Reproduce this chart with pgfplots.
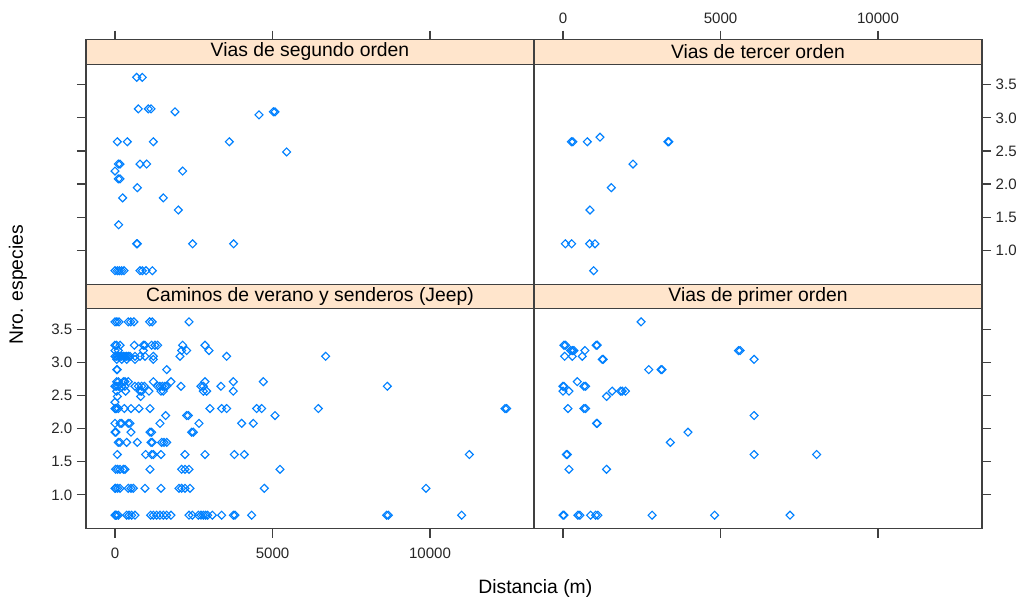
\documentclass[border=0pt]{standalone}
\usepackage{pgfplots}
\pgfplotsset{compat=1.18}
\usepackage{fontspec}
\setmainfont{Liberation Sans}
\definecolor{pts}{RGB}{0,128,255}
\definecolor{stripcol}{RGB}{255,229,204}
\pgfplotsset{
  panel/.style={
    scale only axis, width=336pt,
    xmin=-920, xmax=13300, ymin=0.49,
    scaled ticks=false,
    tick align=outside,
    major tick length=6.75pt,
    axis line style={line width=0.9pt, black!75},
    tick style={line width=0.9pt, black!75},
    xtick={0,5000,10000},
    ytick={1,1.5,2,2.5,3,3.5},
    ticklabel style={font=\fontsize{11.3}{13}\selectfont, text=black!85},
    xticklabel style={yshift=-4.5pt},
  },
  toppanel/.style={panel, height=183.375pt, ymax=4.1797, xticklabel style={yshift=6.5pt}},
  botpanel/.style={panel, height=165pt, ymax=3.81},
  dots/.style={only marks, mark=square, mark size=2.1pt,
      mark options={rotate=45, line width=0.85pt, draw=pts, fill=none, solid}},
}
\begin{document}
\begin{tikzpicture}
% bottom-left: Caminos de verano y senderos (Jeep)
\begin{axis}[botpanel, at={(0pt,0pt)}, anchor=south west,
  xtick pos=left, ytick pos=left, xticklabel pos=left, yticklabel pos=left,
  xticklabels={0,5000,10000}, yticklabels={1.0,1.5,2.0,2.5,3.0,3.5}]
\addplot[dots] coordinates {
(0,3.611)(60,3.611)(130,3.611)(420,3.611)(500,3.611)(600,3.611)(1100,3.611)(1180,3.611)(2350,3.611)
(0,3.258)(53,3.258)(160,3.258)(614,3.258)(900,3.258)(952,3.258)(1164,3.258)(1270,3.258)(1354,3.258)(2148,3.258)(2857,3.258)
(0,3.178)(106,3.178)(900,3.178)(2116,3.178)(2275,3.178)(2984,3.178)
(0,3.091)(53,3.091)(106,3.091)(159,3.091)(212,3.091)(265,3.091)(317,3.091)(370,3.091)(423,3.091)(476,3.091)(635,3.091)(794,3.091)(952,3.091)(1217,3.091)(2063,3.091)(3544,3.091)(6687,3.091)
(53,3.045)(212,3.045)(370,3.045)(635,3.045)(1217,3.045)
(53,2.890)(74,2.890)(1640,2.890)
(53,2.708)(106,2.708)(265,2.708)(317,2.708)(423,2.708)(1217,2.708)(1777,2.708)(2857,2.708)(3756,2.708)(4708,2.708)
(0,2.639)(53,2.639)(106,2.639)(212,2.639)(317,2.639)(635,2.639)(741,2.639)(846,2.639)(931,2.639)(1354,2.639)(1428,2.639)(1502,2.639)(1587,2.639)(1640,2.639)(2095,2.639)(2730,2.639)(2804,2.639)(3364,2.639)(8644,2.639)
(53,2.565)(339,2.565)(794,2.565)(846,2.565)(1079,2.565)(1460,2.565)(1534,2.565)(2804,2.565)(2910,2.565)(3756,2.565)
(74,2.485)(815,2.485)
(0,2.398)
(0,2.303)(20,2.303)(53,2.303)(106,2.303)(296,2.303)(508,2.303)(762,2.303)(1111,2.303)(3015,2.303)(3386,2.303)(3544,2.303)(4497,2.303)(4656,2.303)(6454,2.303)(12379,2.303)(12432,2.303)
(1608,2.197)(2275,2.197)(2328,2.197)(5079,2.197)
(0,2.079)(159,2.079)(212,2.079)(423,2.079)(476,2.079)(1428,2.079)(2666,2.079)(4020,2.079)(4391,2.079)
(0,1.946)(30,1.946)(508,1.946)(1111,1.946)(1164,1.946)(2433,1.946)(2486,1.946)
(106,1.792)(159,1.792)(370,1.792)(709,1.792)(1143,1.792)(1185,1.792)(1481,1.792)(1555,1.792)(1640,1.792)
(74,1.609)(973,1.609)(1164,1.609)(1217,1.609)(1460,1.609)(2222,1.609)(2857,1.609)(3788,1.609)(4105,1.609)(11247,1.609)
(21,1.386)(85,1.386)(159,1.386)(265,1.386)(317,1.386)(1111,1.386)(2116,1.386)(2222,1.386)(2349,1.386)(5237,1.386)
(0,1.099)(20,1.099)(85,1.099)(159,1.099)(423,1.099)(508,1.099)(582,1.099)(952,1.099)(1460,1.099)(2031,1.099)(2116,1.099)(2222,1.099)(2381,1.099)(4740,1.099)(9871,1.099)
(0,0.693)(20,0.693)(53,0.693)(106,0.693)(370,0.693)(444,0.693)(529,0.693)(635,0.693)(1132,0.693)(1217,0.693)(1323,0.693)(1428,0.693)(1534,0.693)(1640,0.693)(1777,0.693)(2349,0.693)(2455,0.693)(2645,0.693)(2730,0.693)(2804,0.693)(2878,0.693)(2941,0.693)(3090,0.693)(3386,0.693)(3756,0.693)(3809,0.693)(4338,0.693)(8623,0.693)(8676,0.693)(11004,0.693)
};
\end{axis}
% bottom-right: Vias de primer orden
\begin{axis}[botpanel, at={(336pt,0pt)}, anchor=south west,
  xtick pos=left, ytick pos=right, xticklabel pos=left, yticklabel pos=right,
  xticklabels={,,}, yticklabels={,,,,,}]
\addplot[dots] coordinates {
(2479,3.611)
(32,3.258)(84,3.258)(1055,3.258)(1087,3.258)
(243,3.178)(295,3.178)(348,3.178)(696,3.178)(5570,3.178)(5623,3.178)
(53,3.091)(295,3.091)(612,3.091)
(1245,3.045)(1277,3.045)(6066,3.045)
(2722,2.890)(3112,2.890)(3144,2.890)
(454,2.708)
(0,2.639)(32,2.639)(665,2.639)(717,2.639)
(0,2.565)(190,2.565)(1561,2.565)(1825,2.565)(1878,2.565)(1983,2.565)
(1382,2.485)
(158,2.303)(665,2.303)(717,2.303)
(6066,2.197)
(1066,2.079)(1087,2.079)
(3967,1.946)
(3408,1.792)
(106,1.609)(137,1.609)(6066,1.609)(8050,1.609)
(190,1.386)(1382,1.386)
(0,0.693)(32,0.693)(475,0.693)(538,0.693)(876,0.693)(1034,0.693)(1108,0.693)(2827,0.693)(4811,0.693)(7206,0.693)
};
\end{axis}
% top-left: Vias de segundo orden
\begin{axis}[toppanel, at={(0pt,183.375pt)}, anchor=south west,
  xtick pos=right, ytick pos=left, xticklabel pos=right, yticklabel pos=left,
  xticklabels={,,}, yticklabels={,,,,,}]
\addplot[dots] coordinates {
(688,3.611)(868,3.611)
(741,3.135)(1058,3.135)(1143,3.135)
(1904,3.091)(5026,3.091)(5079,3.091)
(4571,3.045)
(74,2.639)(391,2.639)(1217,2.639)(3629,2.639)
(5449,2.485)
(106,2.303)(159,2.303)(794,2.303)(1005,2.303)
(0,2.197)(2148,2.197)
(106,2.079)(159,2.079)
(709,1.946)
(243,1.792)(1534,1.792)
(2010,1.609)
(116,1.386)
(688,1.099)(709,1.099)(2465,1.099)(3766,1.099)
(0,0.693)(74,0.693)(138,0.693)(212,0.693)(286,0.693)(794,0.693)(868,0.693)(984,0.693)(1185,0.693)
};
\end{axis}
% top-right: Vias de tercer orden
\begin{axis}[toppanel, at={(336pt,183.375pt)}, anchor=south west,
  xtick pos=right, ytick pos=right, xticklabel pos=right, yticklabel pos=right,
  xticklabels={0,5000,10000}, yticklabels={1.0,1.5,2.0,2.5,3.0,3.5}]
\addplot[dots] coordinates {
(265,2.639)(317,2.639)(772,2.639)(3333,2.639)(3364,2.639)
(1174,2.708)
(2222,2.303)
(1534,1.946)
(857,1.609)
(74,1.099)(275,1.099)(846,1.099)(1015,1.099)
(973,0.693)
};
\end{axis}
% strips
\begin{scope}[line width=0.9pt, draw=black!75]
\draw[fill=stripcol] (0pt,165pt) rectangle (336pt,183.375pt);
\draw[fill=stripcol] (336pt,165pt) rectangle (672pt,183.375pt);
\draw[fill=stripcol] (0pt,348.375pt) rectangle (336pt,366.75pt);
\draw[fill=stripcol] (336pt,348.375pt) rectangle (672pt,366.75pt);
\end{scope}
\begin{scope}[every node/.style={font=\fontsize{14.5}{17}\selectfont, inner sep=0pt}]
\node at (168pt,174.19pt) {Caminos de verano y senderos (Jeep)};
\node at (504pt,174.19pt) {Vias de primer orden};
\node at (168pt,357.56pt) {Vias de segundo orden};
\node at (504pt,357.56pt) {Vias de tercer orden};
\node[rotate=90] at (-51pt,182.8pt) {Nro. especies};
\node at (337pt,-44.5pt) {Distancia (m)};
\end{scope}
\pgfresetboundingbox
\path[use as bounding box] (-64.5pt,-55.7pt) rectangle (705.75pt,396.5pt);
\end{tikzpicture}
\end{document}
